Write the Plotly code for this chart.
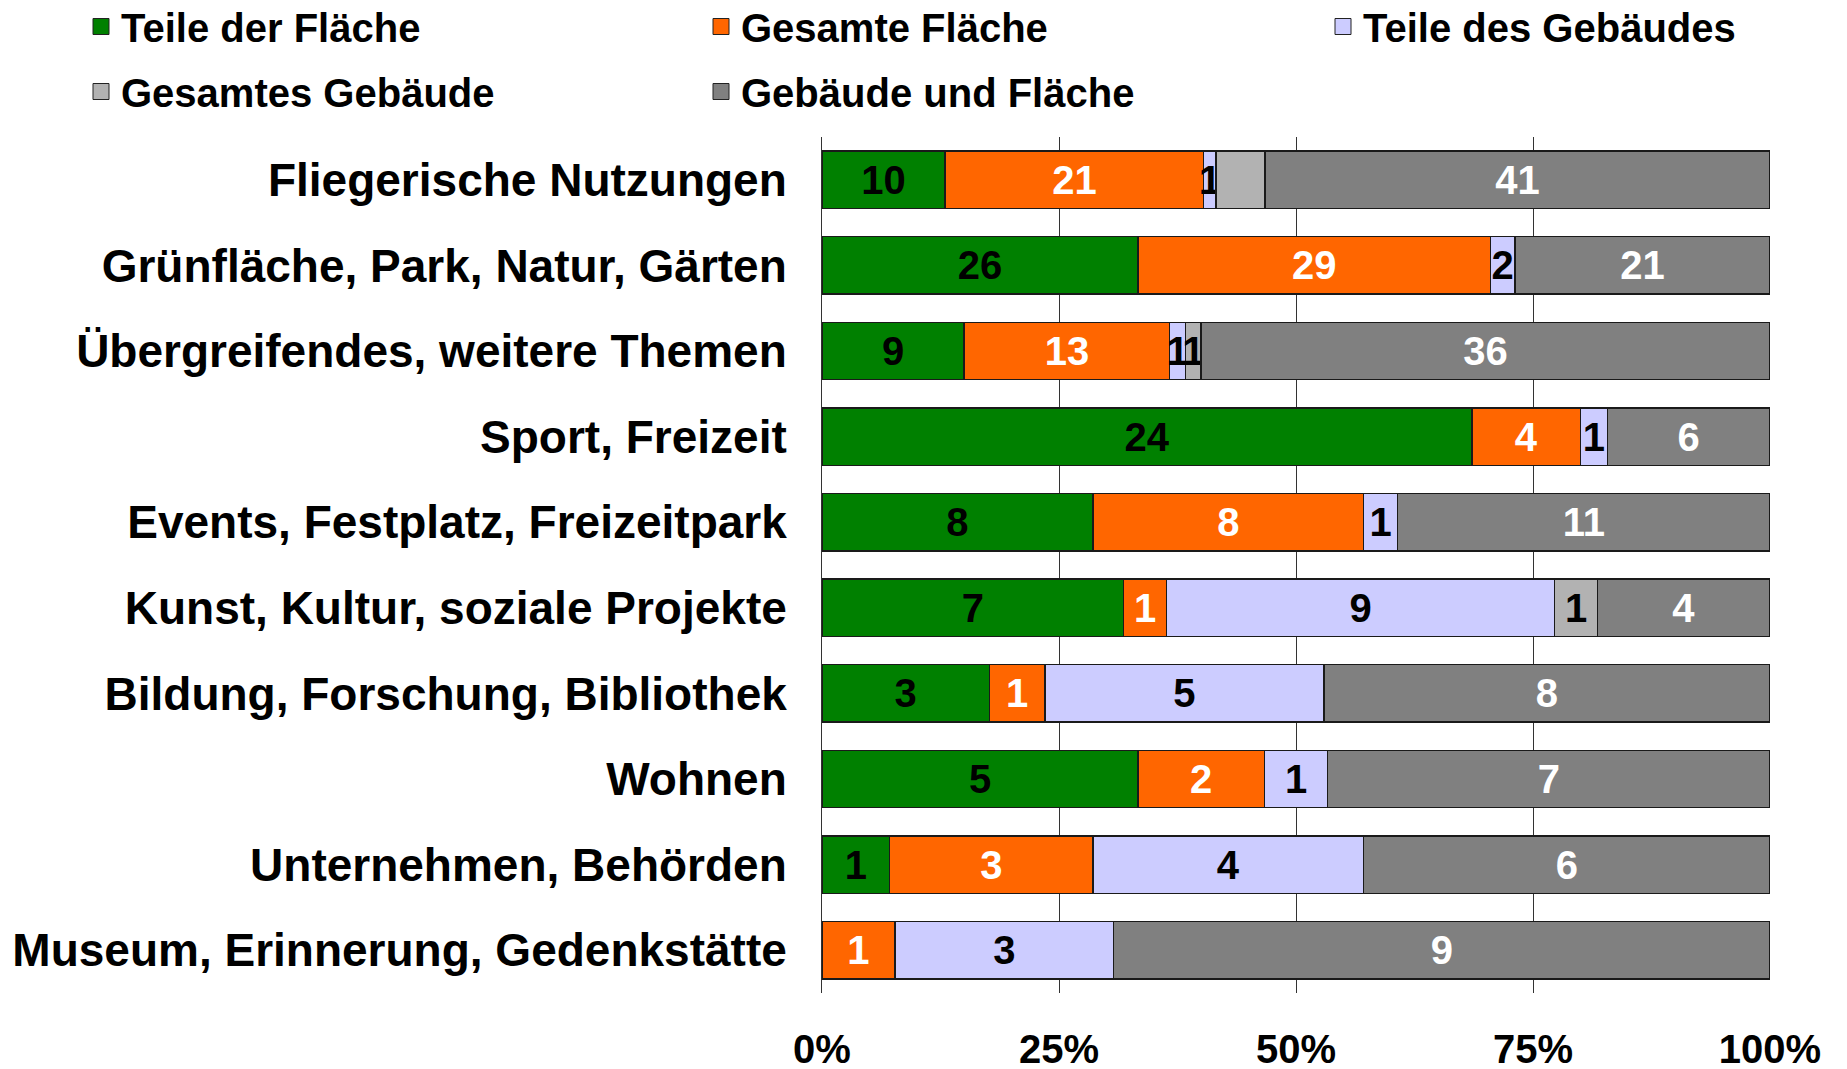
import plotly.graph_objects as go

categories = [
    "Fliegerische Nutzungen",
    "Grünfläche, Park, Natur, Gärten",
    "Übergreifendes, weitere Themen",
    "Sport, Freizeit",
    "Events, Festplatz, Freizeitpark",
    "Kunst, Kultur, soziale Projekte",
    "Bildung, Forschung, Bibliothek",
    "Wohnen",
    "Unternehmen, Behörden",
    "Museum, Erinnerung, Gedenkstätte",
]

series_names = ["Teile der Fläche", "Gesamte Fläche", "Teile des Gebäudes",
                "Gesamtes Gebäude", "Gebäude und Fläche"]

teile_flaeche = [10, 26, 9, 24, 8, 7, 3, 5, 1, 0]
gesamte_flaeche = [21, 29, 13, 4, 8, 1, 1, 2, 3, 1]
teile_gebaeude = [1, 2, 1, 1, 1, 9, 5, 1, 4, 3]
gesamtes_gebaeude = [4, 0, 1, 0, 0, 1, 0, 0, 0, 0]
gebaeude_und_flaeche = [41, 21, 36, 6, 11, 4, 8, 7, 6, 9]

# label of the "Gesamtes Gebäude" segment in the first row is not shown in the original
hidden_labels = {("Gesamtes Gebäude", "Fliegerische Nutzungen")}

tick_vals = [0, 25, 50, 75, 100]
tick_text = ["0%", "25%", "50%", "75%", "100%"]

colors = ["#008000", "#FF6600", "#CCCCFF", "#B2B2B2", "#808080"]
text_colors = ["black", "white", "black", "black", "white"]
legend_ids = ["legend", "legend2", "legend3", "legend", "legend2"]

FONT = "Liberation Sans, Arial, sans-serif"

fig = go.Figure()
all_values = [teile_flaeche, gesamte_flaeche, teile_gebaeude, gesamtes_gebaeude, gebaeude_und_flaeche]
for name, vals, col, tcol in zip(series_names, all_values, colors, text_colors):
    labels = []
    for c, v in zip(categories, vals):
        if v == 0 or (name, c) in hidden_labels:
            labels.append("")
        else:
            labels.append(str(v))
    fig.add_trace(go.Bar(
        y=categories, x=vals, name=name, orientation="h",
        marker=dict(color=col, line=dict(color="#1a1a1a", width=1.5)),
        text=labels, textposition="inside", insidetextanchor="middle",
        constraintext="none", textangle=0,
        textfont=dict(family=FONT, size=40, color=tcol, weight="bold"),
        showlegend=False, hoverinfo="x+y+name",
    ))

# legend entries (drawn on a hidden helper axis pair so they don't affect the bars)
for name, col, lg in zip(series_names, colors, legend_ids):
    fig.add_trace(go.Scatter(
        x=[0], y=[0], mode="markers", name=name, legend=lg,
        legendgroup=name, xaxis="x2", yaxis="y2",
        marker=dict(symbol="square", size=16, color=col, opacity=1,
                    line=dict(color="#222", width=1)),
        hoverinfo="skip",
    ))

MT, MB = 129, 84
plot_h = 1069 - MT - MB
legend_y = 1 + (MT + 14) / plot_h

legend_common = dict(
    xref="container", yref="paper", yanchor="top", xanchor="left",
    orientation="v", font=dict(family=FONT, size=40, color="black", weight="bold"),
    bgcolor="rgba(0,0,0,0)", tracegroupgap=10, itemclick=False, itemdoubleclick=False,
)

fig.update_layout(
    width=1847, height=1069,
    barmode="stack", barnorm="percent", bargap=0.33,
    plot_bgcolor="white", paper_bgcolor="white",
    margin=dict(l=814, r=85, t=MT, b=MB, autoexpand=False),
    font=dict(family=FONT, color="black"),
    legend=dict(x=73 / 1847, y=legend_y, **legend_common),
    legend2=dict(x=693 / 1847, y=legend_y, **legend_common),
    legend3=dict(x=1315 / 1847, y=legend_y, **legend_common),
    xaxis=dict(
        range=[0, 100], tickvals=tick_vals, ticktext=tick_text,
        showgrid=True, gridcolor="#333333", gridwidth=1,
        zeroline=False, showline=False, ticks="", automargin=False,
        tickfont=dict(family=FONT, size=40, color="black", weight="bold"),
        ticklabelstandoff=29, fixedrange=True,
    ),
    yaxis=dict(
        autorange="reversed", showgrid=False, zeroline=False, automargin=False,
        showline=True, linecolor="#333333", linewidth=1, ticks="",
        tickfont=dict(family=FONT, size=46, color="black", weight="bold"),
        ticklabelstandoff=25, fixedrange=True,
    ),
    xaxis2=dict(domain=[0, 0.001], range=[10, 11], visible=False, anchor="y2", fixedrange=True),
    yaxis2=dict(domain=[0, 0.001], range=[10, 11], visible=False, anchor="x2", fixedrange=True),
)

fig.write_html("out.html")
